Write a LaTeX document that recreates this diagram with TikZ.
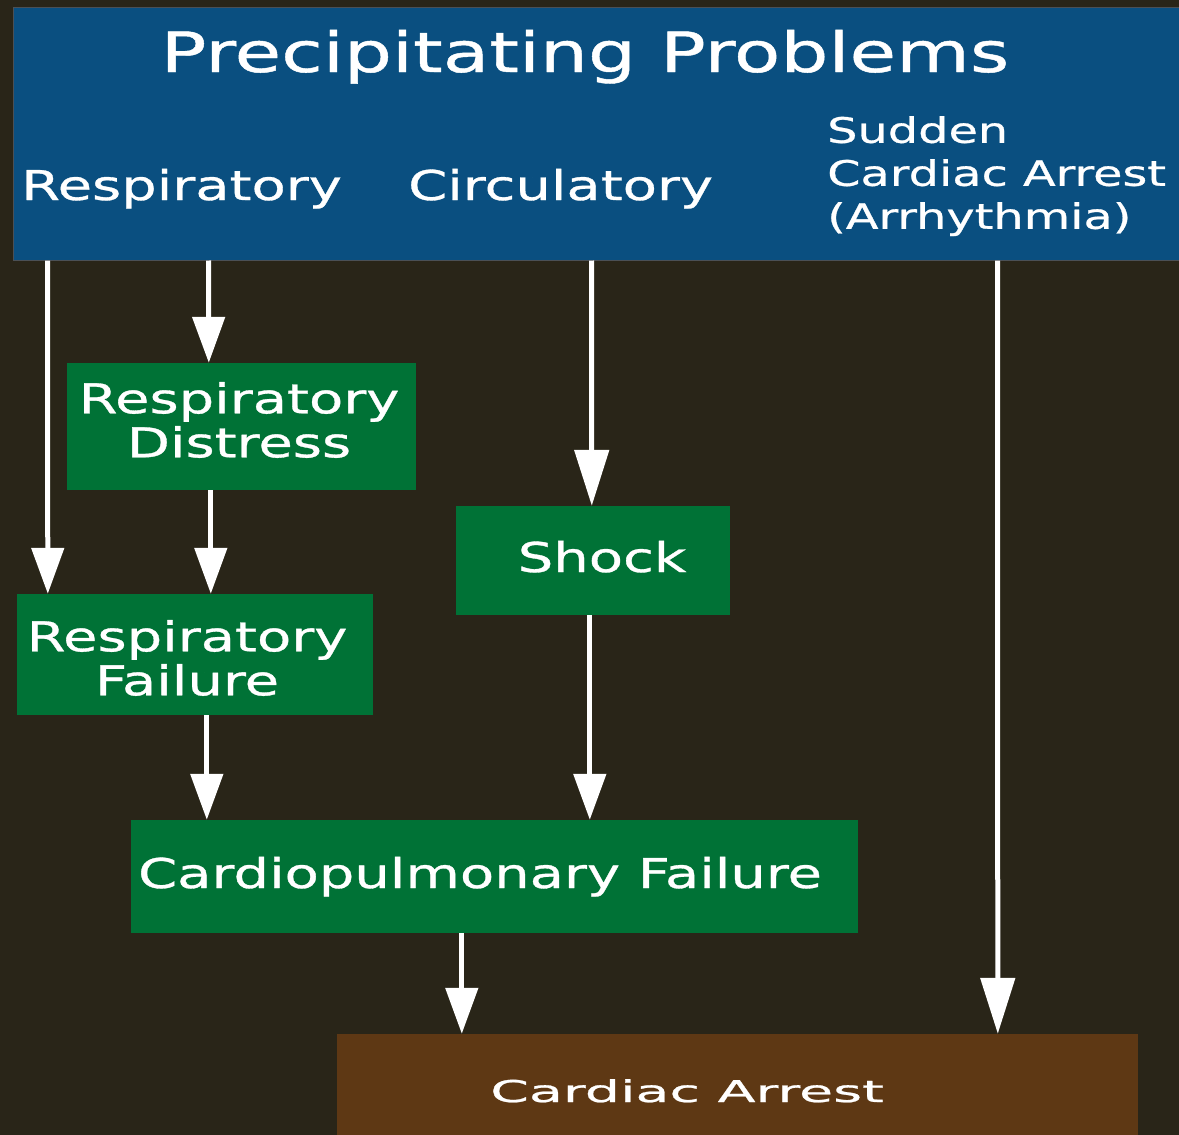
\documentclass[tikz,border=0pt]{standalone}
\usepackage{fontspec}
\setmainfont[FakeStretch=1.365, FakeBold=0.8]{DejaVu Sans}
\newfontfamily\widefont[FakeStretch=1.85, FakeBold=0.8]{DejaVu Sans}
\usepackage{tikz}
\usetikzlibrary{
  arrows.meta
}
\usepackage{xcolor}
\definecolor{bgdark}{RGB}{41, 37, 24}
\definecolor{hdrblue}{RGB}{10, 79, 128}
\definecolor{boxgreen}{RGB}{0, 114, 54}
\definecolor{boxbrown}{RGB}{94, 56, 20}
\definecolor{hdredge}{RGB}{75, 80, 85}
\tikzset{
  % Bloklar
  hdrbox/.style   = {fill=hdrblue, draw=hdredge, line width=1pt, inner sep=0pt},
  greenbox/.style = {fill=boxgreen, inner sep=0pt},
  brownbox/.style = {fill=boxbrown, inner sep=0pt},
  % Matnlar
  titletxt/.style = {text=white, inner sep=0pt, font=\fontsize{55.5}{60}\selectfont},
  hdrtxt/.style   = {text=white, inner sep=0pt, font=\fontsize{41}{44}\selectfont},
  smalltxt/.style = {text=white, inner sep=0pt, align=left, font=\fontsize{35}{43}\selectfont},
  boxtxt/.style   = {text=white, inner sep=0pt, align=center, font=\fontsize{41}{44}\selectfont},
  endtxt/.style   = {text=white, inner sep=0pt, font=\widefont\fontsize{30}{34}\selectfont},
  % Strelkalar
  flowarr/.style  = {draw=white, line width=5pt, -{Triangle[width=32pt, length=46pt]}},
  longarr/.style  = {flowarr, -{Triangle[width=34pt, length=56pt]}},
}

\begin{document}
\begin{tikzpicture}[x=1pt, y=-1pt]
  % Fon
  \fill[bgdark] (0,0) rectangle (1179,1135);
  \useasboundingbox (0,0) rectangle (1179,1135);
  \clip (0,0) rectangle (1179,1135);
  % Sarlavha bloki
  \node[hdrbox, minimum width=1172, minimum height=253] (hdr) at (599,133.5) {};
  \node[titletxt, anchor=base] (title) at (585,72) {Precipitating Problems};
  \node[hdrtxt, anchor=base west] (resp) at (21,200) {Respiratory};
  \node[hdrtxt, anchor=base west] (circ) at (408,200) {Circulatory};
  \node[smalltxt, anchor=north west] (sudden) at (827,116) {Sudden\\Cardiac Arrest\\(Arrhythmia)};
  % Oraliq bloklar
  \node[greenbox, minimum width=349, minimum height=127] (rd) at (241.5,426.5) {};
  \node[boxtxt] (rdlbl) at (239,420) {Respiratory\\Distress};
  \node[greenbox, minimum width=356, minimum height=121] (rf) at (195,654.5) {};
  \node[boxtxt] (rflbl) at (187,658) {Respiratory\\Failure};
  \node[greenbox, minimum width=274, minimum height=109] (shock) at (593,560.5) {};
  \node[boxtxt, anchor=base] (shocklbl) at (602,572) {Shock};
  \node[greenbox, minimum width=727, minimum height=113] (cf) at (494.5,876.5) {};
  \node[boxtxt, anchor=base] (cflbl) at (480,888) {Cardiopulmonary Failure};
  % Yakuniy blok
  \node[brownbox, minimum width=801, minimum height=110] (ca) at (737.5,1089) {};
  \node[endtxt, anchor=base] (calbl) at (687,1102) {Cardiac Arrest};
  % Strelkalar
  \draw[flowarr] ([xshift=35pt]hdr.south west) -- ([xshift=31pt]rf.north west);
  \draw[flowarr] ([xshift=196pt]hdr.south west) -- ([xshift=142pt]rd.north west);
  \draw[flowarr] ([xshift=144pt]rd.south west) -- ([xshift=194pt]rf.north west);
  \draw[flowarr] ([xshift=190pt]rf.south west) -- ([xshift=76pt]cf.north west);
  \draw[longarr] ([xshift=579pt]hdr.south west) -- ([xshift=136pt]shock.north west);
  \draw[flowarr] ([xshift=134pt]shock.south west) -- ([xshift=459pt]cf.north west);
  \draw[flowarr] ([xshift=331pt]cf.south west) -- ([xshift=125pt]ca.north west);
  \draw[longarr] ([xshift=985pt]hdr.south west) -- ([xshift=661pt]ca.north west);
\end{tikzpicture}
\end{document}
